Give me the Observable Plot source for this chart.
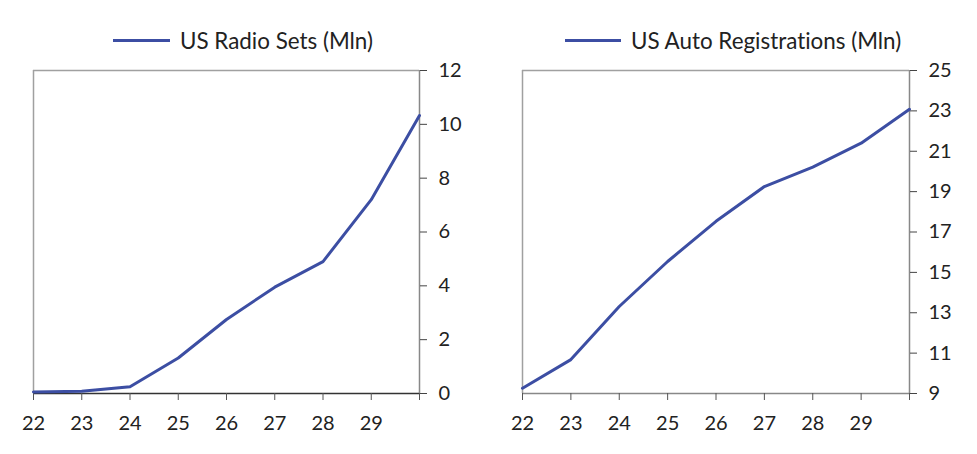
<!DOCTYPE html>
<html>
<head>
<meta charset="utf-8">
<script src="https://cdn.jsdelivr.net/npm/d3@7"></script>
<script src="https://cdn.jsdelivr.net/npm/@observablehq/plot@0.6"></script>
<style>
  html, body { margin: 0; padding: 0; background: #fff; }
  body { width: 977px; height: 454px; position: relative; overflow: hidden; font-family: Lato, "Open Sans", sans-serif; color: #222; font-variant-ligatures: none; }
  .panel { position: absolute; top: 0; }
  .legend { position: absolute; top: 27px; display: flex; align-items: center; font-size: 22.4px; color: #222; white-space: nowrap; font-variant-ligatures: none; }
  .legend .sw { display: inline-block; height: 3px; background: #3c4ea3; margin-right: 10px; }
  .chart { position: absolute; top: 55px; left: 0; }
</style>
</head>
<body>
<div id="p1" class="panel" style="left:0px;width:488px;height:454px"></div>
<div id="p2" class="panel" style="left:488px;width:489px;height:454px"></div>
<script>
const years = [22, 23, 24, 25, 26, 27, 28, 29, 30];
const xTickLabels = [22, 23, 24, 25, 26, 27, 28, 29];
const radioSets = [0.06, 0.08, 0.25, 1.32, 2.75, 3.95, 4.9, 7.2, 10.33];
const autoRegs = [9.26, 10.68, 13.31, 15.54, 17.53, 19.25, 20.21, 21.4, 23.08];
const radioTicks = [0, 2, 4, 6, 8, 10, 12];
const autoTicks = [9, 11, 13, 15, 17, 19, 21, 23, 25];
const titles = ["US Radio Sets (Mln)", "US Auto Registrations (Mln)"];

const lineColor = "#3c4ea3";
const frameColor = "#a0a0a0";

function makeChart(values, yTicks, yDomain, opts) {
  const data = years.map((y, i) => ({year: y, value: values[i]}));
  return Plot.plot({
    width: opts.width,
    height: 388,
    marginLeft: opts.marginLeft,
    marginRight: opts.marginRight,
    marginTop: 15,
    marginBottom: 50,
    style: {fontSize: "20px", fontFamily: "Lato, 'Open Sans', sans-serif", color: "#222", background: "transparent"},
    x: {domain: [22, 30]},
    y: {domain: yDomain},
    marks: [
      Plot.ruleY([yDomain[1]], {stroke: frameColor, strokeWidth: 1.5}),
      Plot.ruleX([22], {stroke: frameColor, strokeWidth: 1.5}),
      Plot.ruleX([30], {stroke: "#888", strokeWidth: 1.5}),
      Plot.ruleY([yDomain[0]], {stroke: opts.bottomColor, strokeWidth: 1.5}),
      Plot.axisX({
        ticks: years,
        tickFormat: d => xTickLabels.includes(d) ? String(d) : "",
        tickSize: 7,
        tickPadding: 15,
        stroke: "#555",
        label: null
      }),
      Plot.axisY({
        anchor: "right",
        ticks: yTicks,
        tickFormat: d => String(d),
        tickSize: 7,
        tickPadding: 12,
        stroke: "#444",
        label: null,
        textAnchor: "start"
      }),
      Plot.line(data, {x: "year", y: "value", stroke: lineColor, strokeWidth: 3})
    ]
  });
}

function addPanel(id, title, chart, legendLeft, swatchWidth) {
  const panel = document.getElementById(id);
  const leg = document.createElement("div");
  leg.className = "legend";
  leg.style.left = legendLeft + "px";
  const sw = document.createElement("span");
  sw.className = "sw";
  sw.style.width = swatchWidth + "px";
  const tx = document.createElement("span");
  tx.textContent = title;
  leg.appendChild(sw);
  leg.appendChild(tx);
  panel.appendChild(leg);
  chart.classList.add("chart");
  panel.appendChild(chart);
}

const c1 = makeChart(radioSets, radioTicks, [0, 12], {width: 488, marginLeft: 33, marginRight: 69, bottomColor: "#333"});
const c2 = makeChart(autoRegs, autoTicks, [9, 25], {width: 489, marginLeft: 34, marginRight: 68, bottomColor: "#888"});
addPanel("p1", titles[0], c1, 113, 57);
addPanel("p2", titles[1], c2, 77, 56);
</script>
</body>
</html>
